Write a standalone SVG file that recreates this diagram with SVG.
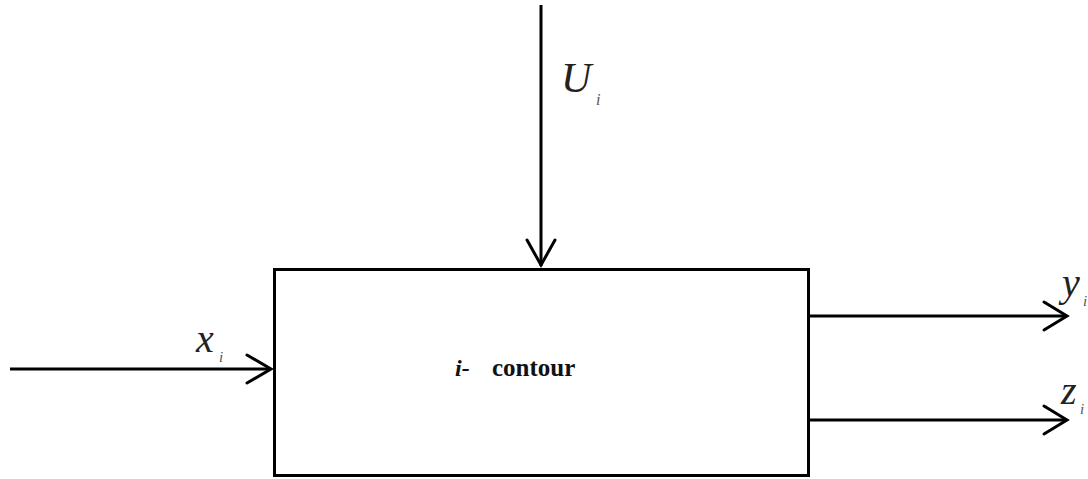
<svg xmlns="http://www.w3.org/2000/svg" width="1088" height="479" viewBox="0 0 1088 479">
<style>
.ln{stroke:#000;stroke-width:3;fill:none}
.hd{stroke:#000;stroke-width:3;fill:none;stroke-linecap:round;stroke-linejoin:miter}
.lbl{font-family:"Liberation Serif","Times New Roman",serif;font-style:italic;fill:#222}
.sub{font-family:"Liberation Serif","Times New Roman",serif;font-style:italic;fill:#555}
.ttl{font-family:"Liberation Serif","Times New Roman",serif;font-weight:bold;fill:#111}
</style>
<rect width="1088" height="479" fill="#fff"/>
<g id="box">
<rect x="274.5" y="269.5" width="534" height="206" fill="#fff" stroke="#000" stroke-width="3"/>
<text class="ttl" x="455" y="376" font-size="24"><tspan font-style="italic">i-</tspan><tspan x="492" font-size="25">contour</tspan></text>
</g>
<g id="connectors">
<line class="ln" x1="541" y1="5" x2="541" y2="266"/>
<polyline class="hd" points="527,240 541,265 555,240"/>
<line class="ln" x1="10" y1="369" x2="271" y2="369"/>
<polyline class="hd" points="247,355 271,369 247,383"/>
<line class="ln" x1="809" y1="316" x2="1067" y2="316"/>
<polyline class="hd" points="1044,302 1067,316 1044,330"/>
<line class="ln" x1="809" y1="420" x2="1067" y2="420"/>
<polyline class="hd" points="1044,406 1067,420 1044,434"/>
</g>
<g id="labels">
<text class="lbl" x="561" y="92" font-size="42">U</text>
<text class="sub" x="596" y="105" font-size="16">i</text>
<text class="lbl" x="196" y="352" font-size="40">x</text>
<text class="sub" x="219" y="362" font-size="15">i</text>
<text class="lbl" x="1062" y="296" font-size="40">y</text>
<text class="sub" x="1083" y="306" font-size="15">i</text>
<text class="lbl" x="1061" y="404" font-size="40">z</text>
<text class="sub" x="1080" y="414" font-size="15">i</text>
</g>
</svg>
